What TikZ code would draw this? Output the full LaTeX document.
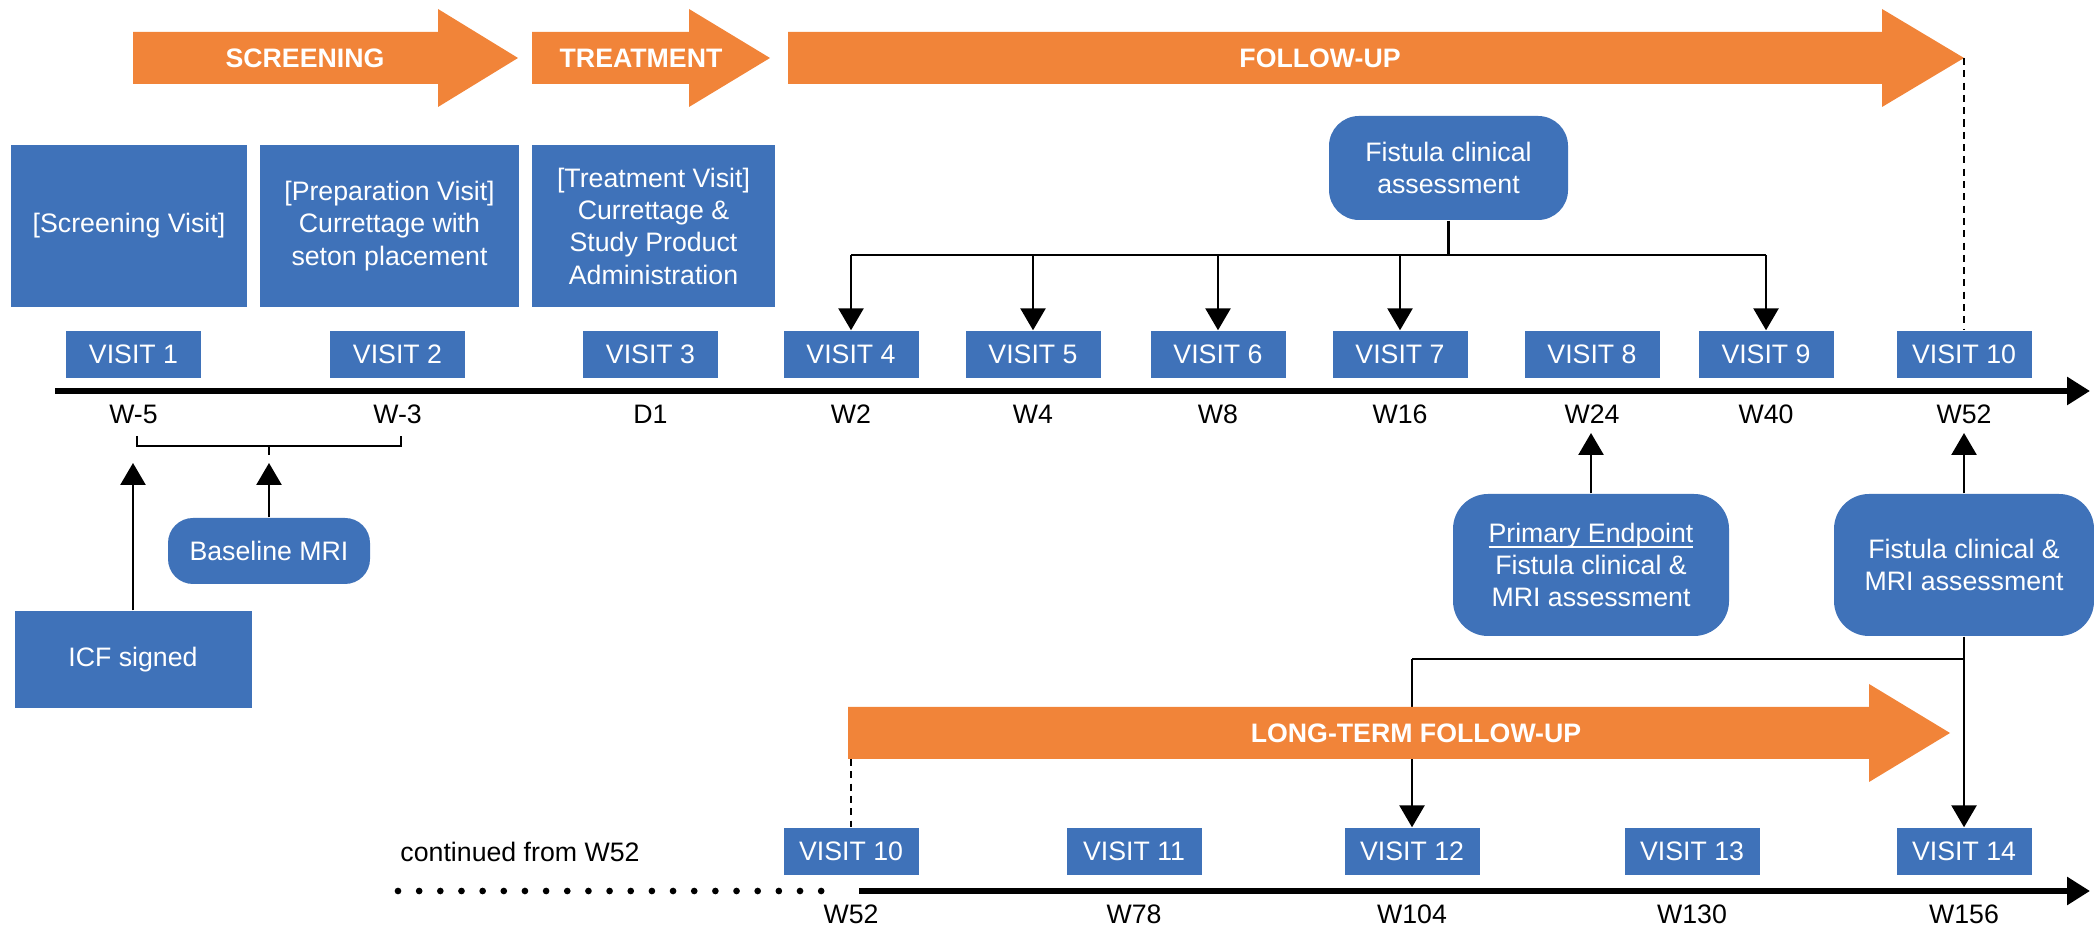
\documentclass[tikz,border=0pt]{standalone}
\usepackage{fontspec}
\setmainfont{Liberation Sans}
\usepackage{xcolor}
\usetikzlibrary{arrows.meta,positioning,calc}
\definecolor{boxblue}{HTML}{3F72B9}
\definecolor{phaseorange}{HTML}{F18439}
% orange phase arrow: left end, head start, tip, middle height
\newcommand{\phaseshape}[4]{%
  \fill[phaseorange] (#1,#4+0.26) -- (#2,#4+0.26) -- (#2,#4+0.49) -- (#3,#4)
    -- (#2,#4-0.49) -- (#2,#4-0.26) -- (#1,#4-0.26) -- cycle;}

\begin{document}
\begin{tikzpicture}[
    font=\fontsize{7.6}{9.2}\selectfont,
    visit/.style={rectangle, fill=boxblue, text=white, minimum width=1.35cm,
                  minimum height=0.47cm, inner sep=0pt},
    infobox/.style={rectangle, fill=boxblue, text=white, align=center,
                    minimum height=1.62cm, inner sep=2pt},
    assess/.style={rectangle, rounded corners=0.3cm, fill=boxblue, text=white,
                   align=center, inner sep=2pt},
    week/.style={inner sep=1pt},
    phase/.style={text=white, font=\fontsize{7.6}{9.2}\selectfont\bfseries},
    conn/.style={line width=0.75pt},
    arrow/.style={-{Triangle[length=0.22cm, width=0.25cm]}, line width=0.75pt},
    timeline/.style={-{Triangle[length=0.23cm, width=0.27cm]}, line width=1.8pt}
]
\useasboundingbox (0,0) rectangle (20.94,-9.28);

% Phases
\phaseshape{1.33}{4.38}{5.18}{-0.58}
\phaseshape{5.32}{6.89}{7.70}{-0.58}
\phaseshape{7.88}{18.82}{19.64}{-0.58}
\node[phase] (screening) at (3.05,-0.58) {SCREENING};
\node[phase] (treatment) at (6.41,-0.58) {TREATMENT};
\node[phase] (followup) at (13.20,-0.58) {FOLLOW-UP};
\coordinate (futip) at (19.64,-0.58);

% Visit descriptions
\node[infobox, minimum width=2.36cm] (scrvisit) at (1.29,-2.26) {[Screening Visit]};
\node[infobox, minimum width=2.59cm] (prepvisit) at (3.895,-2.26)
    {[Preparation Visit]\\Currettage with\\seton placement};
\node[infobox, minimum width=2.43cm] (treatvisit) at (6.535,-2.26)
    {[Treatment Visit]\\Currettage \&\\Study Product\\Administration};
\node[assess, minimum width=2.39cm, minimum height=1.04cm] (fca) at (14.485,-1.68)
    {Fistula clinical\\assessment};

% Visits, first year
\node[visit] (v1) at (1.335,-3.545) {VISIT 1};
\node[visit] (v2) at (3.975,-3.545) {VISIT 2};
\node[visit] (v3) at (6.505,-3.545) {VISIT 3};
\node[visit] (v4) at (8.51,-3.545) {VISIT 4};
\node[visit] (v5) at (10.33,-3.545) {VISIT 5};
\node[visit] (v6) at (12.18,-3.545) {VISIT 6};
\node[visit] (v7) at (14.00,-3.545) {VISIT 7};
\node[visit] (v8) at (15.92,-3.545) {VISIT 8};
\node[visit] (v9) at (17.66,-3.545) {VISIT 9};
\node[visit] (v10) at (19.64,-3.545) {VISIT 10};

% Timeline, first year
\coordinate (tla) at (0.55,-3.91);
\coordinate (tlb) at (20.90,-3.91);
\draw[timeline] (tla) -- (tlb);

\node[week] (wk1) at (1.335,-4.14) {W-5};
\node[week] (wk2) at (3.975,-4.14) {W-3};
\node[week] (wk3) at (6.505,-4.14) {D1};
\node[week] (wk4) at (8.51,-4.14) {W2};
\node[week] (wk5) at (10.33,-4.14) {W4};
\node[week] (wk6) at (12.18,-4.14) {W8};
\node[week] (wk7) at (14.00,-4.14) {W16};
\node[week] (wk8) at (15.92,-4.14) {W24};
\node[week] (wk9) at (17.66,-4.14) {W40};
\node[week] (wk10) at (19.64,-4.14) {W52};

% Screening window
\coordinate (brl) at (1.37,-4.46);
\coordinate (brr) at (4.01,-4.46);
\coordinate (brm) at ($(brl)!0.5!(brr)$);
\draw[line width=0.45pt] ([yshift=0.1cm]brl) -- (brl) -- (brr) -- ([yshift=0.1cm]brr);
\draw[line width=0.45pt] (brm) -- ++(0,-0.09);
\coordinate (brtip) at (0,-4.63);

\node[visit, minimum width=2.37cm, minimum height=0.97cm] (icf) at (1.33,-6.595) {ICF signed};
\node[assess, rounded corners=0.25cm, minimum width=2.02cm, minimum height=0.66cm]
    (mri) at (2.69,-5.51) {Baseline MRI};
\draw[arrow] (icf.north) -- (icf.north |- brtip);
\draw[arrow] (mri.north) -- (mri.north |- brtip);

% Fistula clinical assessment
\coordinate (bus) at (0,-2.55);
\draw[conn] (fca.south) -- (fca.south |- bus);
\draw[conn] (v4.north |- bus) -- (v9.north |- bus);
\draw[arrow] (v4.north |- bus) -- (v4.north);
\draw[arrow] (v5.north |- bus) -- (v5.north);
\draw[arrow] (v6.north |- bus) -- (v6.north);
\draw[arrow] (v7.north |- bus) -- (v7.north);
\draw[arrow] (v9.north |- bus) -- (v9.north);
\draw[dashed, dash pattern=on 2pt off 1.5pt, line width=0.5pt] (futip) -- (v10.north);

% Assessments with MRI
\coordinate (wktip) at (0,-4.33);
\node[assess, rounded corners=0.35cm, minimum width=2.76cm, minimum height=1.42cm]
    (pe) at (15.91,-5.65) {\underbar{Primary Endpoint}\\Fistula clinical \&\\MRI assessment};
\node[assess, rounded corners=0.35cm, minimum width=2.60cm, minimum height=1.42cm]
    (fma) at (19.64,-5.65) {Fistula clinical \&\\MRI assessment};
\draw[arrow] (pe.north) -- (pe.north |- wktip);
\draw[arrow] (fma.north) -- (fma.north |- wktip);

% Visits, long-term
\node[visit] (w10) at (8.51,-8.515) {VISIT 10};
\node[visit] (w11) at (11.34,-8.515) {VISIT 11};
\node[visit] (w12) at (14.12,-8.515) {VISIT 12};
\node[visit] (w13) at (16.92,-8.515) {VISIT 13};
\node[visit] (w14) at (19.64,-8.515) {VISIT 14};

\coordinate (bus2) at (0,-6.59);
\draw[conn] (fma.south |- bus2) -- (w12.north |- bus2);
\draw[arrow] (w12.north |- bus2) -- (w12.north);
\draw[arrow] (fma.south) -- (w14.north);

% Long-term phase
\phaseshape{8.48}{18.69}{19.50}{-7.33}
\node[phase] (ltfu) at (14.16,-7.33) {LONG-TERM FOLLOW-UP};
\coordinate (ltfa) at (8.51,-7.59);
\draw[dashed, dash pattern=on 2pt off 1.5pt, line width=0.5pt] (ltfa) -- (w10.north);

% Timeline, long-term
\node (cont) at (5.20,-8.52) {continued from W52};
\coordinate (tlc) at (3.98,-8.91);
\coordinate (tld) at (8.42,-8.91);
\coordinate (tle) at (8.59,-8.91);
\coordinate (tlf) at (20.90,-8.91);
\draw[line width=1.9pt, line cap=round, dash pattern=on 0pt off 6.02pt] (tlc) -- (tld);
\draw[timeline] (tle) -- (tlf);

\node[week] (wkb10) at (8.51,-9.14) {W52};
\node[week] (wkb11) at (11.34,-9.14) {W78};
\node[week] (wkb12) at (14.12,-9.14) {W104};
\node[week] (wkb13) at (16.92,-9.14) {W130};
\node[week] (wkb14) at (19.64,-9.14) {W156};

\end{tikzpicture}
\end{document}
